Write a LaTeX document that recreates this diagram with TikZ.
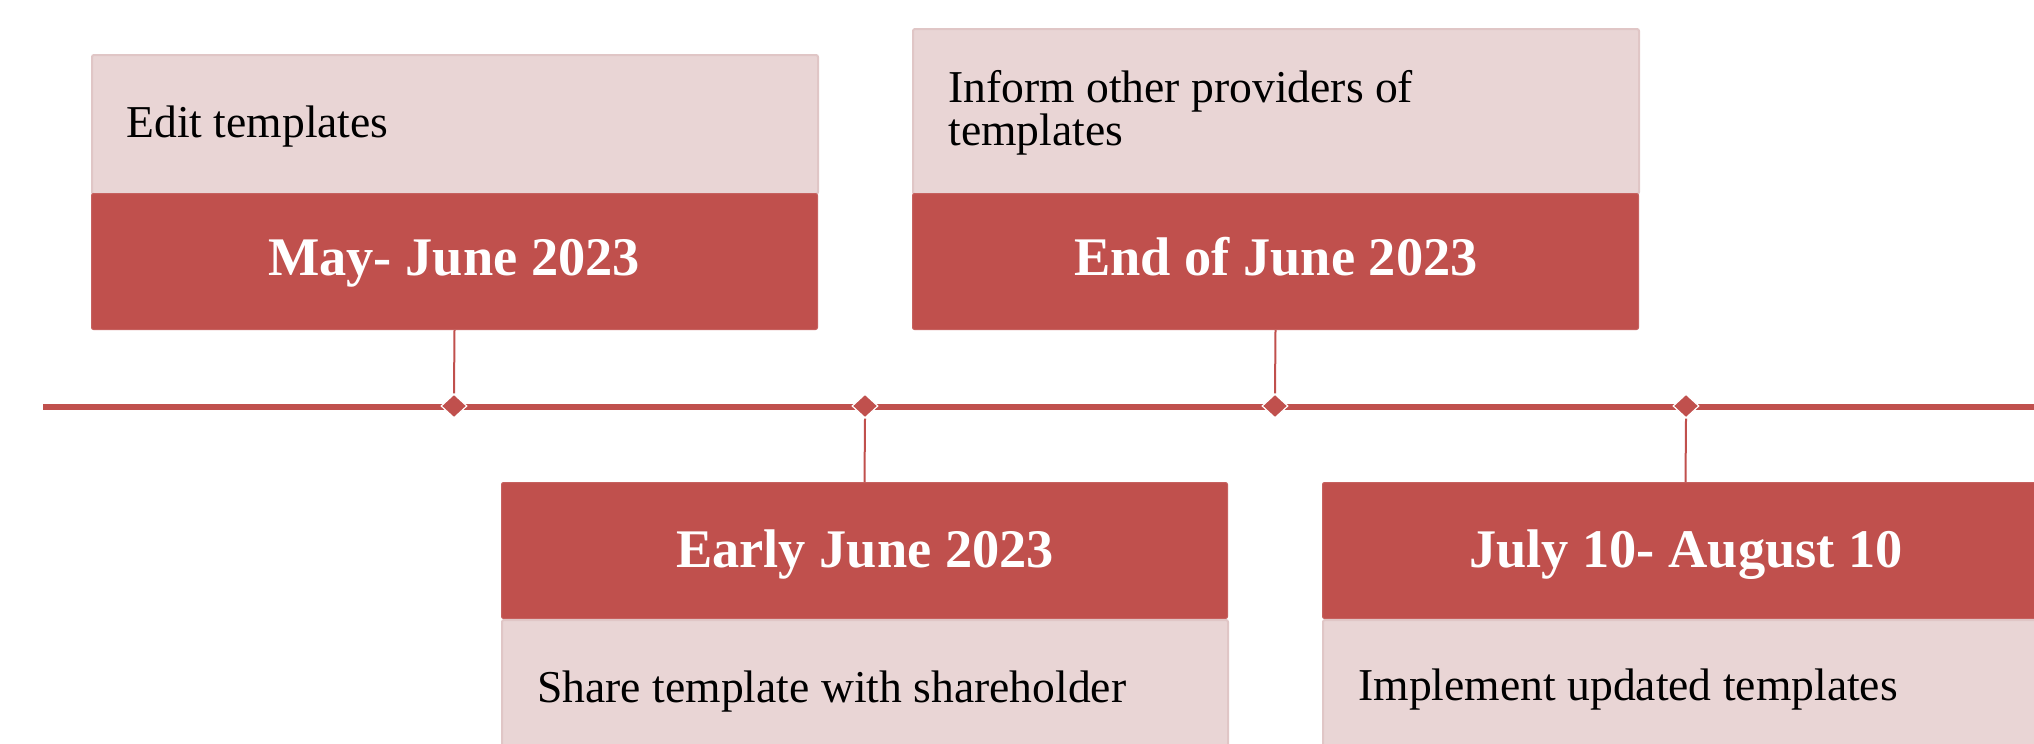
\documentclass[tikz,border=0pt]{standalone}
\usepackage{fontspec}
\setmainfont{Liberation Serif}
\usetikzlibrary{shapes.geometric}
\definecolor{tlred}{HTML}{C0504D}
\definecolor{tllight}{HTML}{E9D5D5}
\definecolor{tledge}{HTML}{E0C6C6}
\tikzset{
  darkbox/.style={rectangle, fill=tlred, draw=tlred!90!white, line width=0.5pt, rounded corners=1pt, anchor=north west, inner sep=0pt, minimum width=363pt, minimum height=68pt},
  lightbox/.style={rectangle, fill=tllight, draw=tledge, line width=1pt, rounded corners=1pt, anchor=north west, inner sep=0pt, minimum width=363pt},
  heading/.style={anchor=base, inner sep=0pt, text=white, font=\fontsize{27.2}{30}\selectfont\bfseries},
  body/.style={anchor=base west, inner sep=0pt, text=black, font=\fontsize{22.8}{21.5}\selectfont, align=left},
  tickmark/.style={diamond, fill=tlred, draw=white, line width=0.6pt, inner sep=0pt, minimum width=13pt, minimum height=12pt},
  stem/.style={draw=tlred, line width=1pt},
  axis/.style={draw=tlred, line width=2.85pt}
}
\begin{document}
\begin{tikzpicture}[x=0.5pt, y=-0.5pt]
\useasboundingbox (0,0) rectangle (2034,744);
\clip (0,0) rectangle (2034,744);
% timeline
\coordinate (tlstart) at (43,407);
\coordinate (tlend) at (2040,407);
\draw[axis] (tlstart) -- (tlend);
% top boxes
\node[lightbox, minimum height=69.5pt] (l1) at (91,54) {};
\node[darkbox] (d1) at (91,193) {};
\node[lightbox, minimum height=82.5pt] (l3) at (912,28) {};
\node[darkbox] (d3) at (912,193) {};
% bottom boxes
\node[darkbox] (d2) at (501,482) {};
\node[lightbox, minimum height=69.5pt] (l2) at (501,619) {};
\node[darkbox] (d4) at (1322,482) {};
\node[lightbox, minimum height=69.5pt] (l4) at (1322,619) {};
% diamonds
\node[tickmark] (m1) at (454,406) {};
\node[tickmark] (m2) at (865,406) {};
\node[tickmark] (m3) at (1275,406) {};
\node[tickmark] (m4) at (1686,406) {};
% stems
\draw[stem] (d1.south) -- (m1.north);
\draw[stem] (d3.south) -- (m3.north);
\draw[stem] (m2.south) -- (d2.north);
\draw[stem] (m4.south) -- (d4.north);
% headings
\node[heading] (h1) at (454,275) {May- June 2023};
\node[heading] (h3) at (1276,275) {End of June 2023};
\node[heading] (h2) at (865,567) {Early June 2023};
\node[heading] (h4) at (1686,567) {July 10- August 10};
% body texts
\node[body] (t1) at (126,137) {Edit templates};
\node[body] (t3) at (948,145) {Inform other providers of\\templates};
\node[body] (t2) at (537,702) {Share template with shareholder};
\node[body] (t4) at (1358,700) {Implement updated templates};
\end{tikzpicture}
\end{document}
